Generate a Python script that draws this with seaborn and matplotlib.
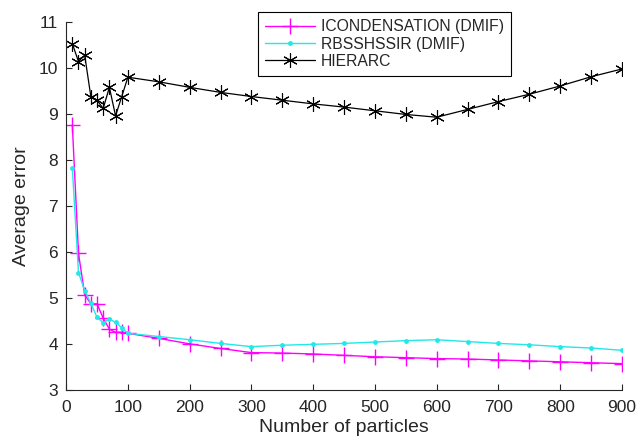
import numpy as np
import pandas as pd
import matplotlib
matplotlib.use('Agg')
import matplotlib.pyplot as plt
import seaborn as sns

# Datos
particulas = [10, 20, 30, 40, 50, 60, 70, 80, 90, 100, 150, 200, 250, 300, 350,
              400, 450, 500, 550, 600, 650, 700, 750, 800, 850, 900]
icondensation = [8.76, 5.97, 5.07, 4.87, 4.87, 4.56, 4.32, 4.25, 4.25, 4.23, 4.12, 4.00,
                 3.90, 3.81, 3.80, 3.78, 3.75, 3.72, 3.70, 3.68, 3.67, 3.65, 3.63, 3.61,
                 3.59, 3.57]
rbsshssir = [7.82, 5.55, 5.16, 4.88, 4.58, 4.46, 4.54, 4.47, 4.35, 4.23, 4.16, 4.09,
             4.01, 3.94, 3.97, 3.99, 4.01, 4.04, 4.07, 4.09, 4.05, 4.01, 3.98, 3.94,
             3.91, 3.86]
hierarc = [10.53, 10.14, 10.28, 9.38, 9.30, 9.12, 9.58, 8.96, 9.38, 9.80, 9.70, 9.58,
           9.47, 9.38, 9.30, 9.22, 9.15, 9.07, 8.99, 8.93, 9.10, 9.27, 9.43, 9.61,
           9.81, 9.98]

nombres = ['ICONDENSATION (DMIF)', 'RBSSHSSIR (DMIF)', 'HIERARC']
datos = pd.DataFrame({'particulas': particulas * 3,
                      'error': icondensation + rbsshssir + hierarc,
                      'metodo': np.repeat(nombres, len(particulas))})

sns.set_style('ticks')
plt.rcParams['font.family'] = ['Liberation Sans', 'DejaVu Sans']

fig = plt.figure(figsize=(6.36, 4.41), dpi=100)
ax = fig.add_axes([0.104, 0.116, 0.874, 0.834])

estilos = {
    'ICONDENSATION (DMIF)': dict(color='#ff00ff', marker='+', markersize=12, mew=1.0, lw=1.0),
    'RBSSHSSIR (DMIF)': dict(color='#22e8e8', marker='o', markersize=3.5, mew=0, lw=1.0),
    'HIERARC': dict(color='black', marker=(6, 2, 0), markersize=10.5, mew=0.8, lw=0.9),
}
for nombre in nombres:
    sub = datos[datos['metodo'] == nombre]
    e = estilos[nombre]
    sns.lineplot(data=sub, x='particulas', y='error', ax=ax, label=nombre,
                 color=e['color'], marker=e['marker'], markersize=e['markersize'],
                 markeredgewidth=e['mew'], markeredgecolor=e['color'],
                 linewidth=e['lw'], estimator=None)

ax.set_xlim(0, 900)
ax.set_ylim(3, 11)
ax.set_xticks(np.arange(0, 901, 100))
ax.set_yticks(np.arange(3, 12, 1))
ax.tick_params(direction='in', length=4, labelsize=12.5, width=0.8)
ax.tick_params(axis='x', pad=7)
ax.tick_params(axis='y', pad=6)
ax.set_xlabel('Number of particles', fontsize=14, labelpad=3)
ax.set_ylabel('Average error', fontsize=14, labelpad=6)
sns.despine(ax=ax)

leg = ax.legend(loc='upper left', bbox_to_anchor=(0.345, 1.027), borderaxespad=0,
                fontsize=11.3, frameon=True, fancybox=False, edgecolor='black',
                framealpha=1, handlelength=3.2, handletextpad=0.35,
                borderpad=0.45, labelspacing=0.15)
leg.get_frame().set_linewidth(0.8)

fig.savefig('out.png', dpi=100)
